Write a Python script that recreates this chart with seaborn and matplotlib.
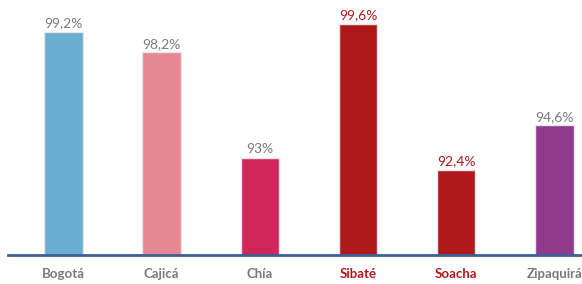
import pandas as pd
import numpy as np
import matplotlib
matplotlib.use("Agg")
import matplotlib.pyplot as plt
import seaborn as sns

# datos
municipios = ['Bogotá', 'Cajicá', 'Chía', 'Sibaté', 'Soacha', 'Zipaquirá']
valores = [99.2, 98.2, 93.0, 99.6, 92.4, 94.6]
etiquetas = ['99,2%', '98,2%', '93%', '99,6%', '92,4%', '94,6%']
colores = ['#69aed1', '#e58891', '#d1265a', '#b0191b', '#b0191b', '#8f3a8b']
color_texto = ['#7a7a7a', '#7a7a7a', '#7a7a7a', '#b0191b', '#b0191b', '#7a7a7a']

df = pd.DataFrame({'municipio': municipios, 'valor': valores})

sns.set_style('white')
plt.rcParams['font.family'] = ['Lato', 'DejaVu Sans']

fig = plt.figure(figsize=(5.82, 2.84), dpi=100)
ax = fig.add_axes([0, 0.102, 1, 0.898])

sns.barplot(data=df, x='municipio', y='valor', hue='municipio', palette=colores,
            legend=False, width=0.39, saturation=1, edgecolor='#e6e6e6',
            linewidth=1, ax=ax)

ax.set_ylim(88.2, 100.78)
ax.set_xlim(-0.645, 5.28)

# etiquetas de valor
for i, (v, t) in enumerate(zip(valores, etiquetas)):
    ax.text(i, v + 0.12, t, ha='center', va='bottom', fontsize=10,
            color=color_texto[i])

for s in ['top', 'right', 'left']:
    ax.spines[s].set_visible(False)
ax.spines['bottom'].set_color('#3d5f98')
ax.spines['bottom'].set_linewidth(2)
ax.spines['bottom'].set_bounds(-0.56, 5.28)

ax.set_yticks([])
ax.set_xlabel('')
ax.set_ylabel('')
ax.tick_params(axis='x', length=0, pad=9)
for lbl, c in zip(ax.get_xticklabels(), color_texto):
    lbl.set_color(c)
    lbl.set_fontsize(9.5)
    lbl.set_fontweight('bold')

fig.savefig('out.png', dpi=100)
